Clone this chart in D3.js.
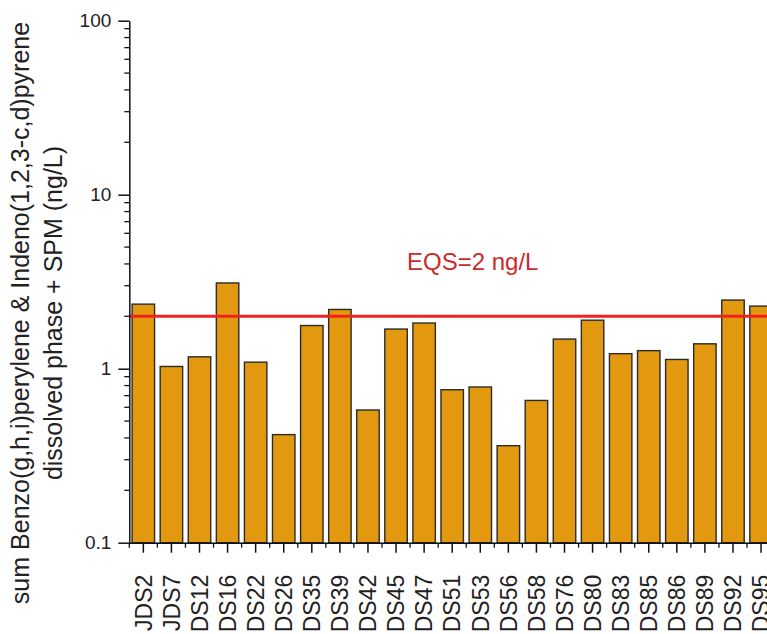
<!DOCTYPE html>
<html>
<head>
<meta charset="utf-8">
<script src="https://cdn.jsdelivr.net/npm/d3@7/dist/d3.min.js"></script>
<style>
  html, body { margin: 0; padding: 0; background: #fff; }
  svg { display: block; }
  text { font-family: "Liberation Sans", Arial, sans-serif; }
</style>
</head>
<body>
<script>
const categories = ["JDS2","JDS7","JDS12","JDS16","JDS22","JDS26","JDS35","JDS39","JDS42","JDS45","JDS47","JDS51","JDS53","JDS56","JDS58","JDS76","JDS80","JDS83","JDS85","JDS86","JDS89","JDS92","JDS95"];
const values = [2.35,1.03,1.17,3.11,1.09,0.418,1.77,2.19,0.579,1.69,1.83,0.757,0.785,0.361,0.657,1.48,1.90,1.22,1.27,1.13,1.39,2.48,2.29];
const yTicks = [0.1, 1, 10, 100];
const yTickLabels = ["0.1", "1", "10", "100"];
const eqsValue = 2;
const eqsLabel = "EQS=2 ng/L";
const yTitle = ["sum Benzo(g,h,i)perylene & Indeno(1,2,3-c,d)pyrene", "dissolved phase + SPM (ng/L)"];

const W = 767, H = 634;
const svg = d3.select("body").append("svg").attr("width", W).attr("height", H);

const x0 = 129.3, x1 = 775.1;
const yTop = 20.7, yBot = 542.7;

const x = d3.scaleBand().domain(categories).range([x0, x1]).paddingInner(0.2).paddingOuter(0.1);
const y = d3.scaleLog().domain([0.1, 100]).range([yBot, yTop]);

// bars
svg.append("g").selectAll("rect").data(categories).join("rect")
  .attr("x", d => x(d))
  .attr("width", x.bandwidth())
  .attr("y", (d, i) => y(values[i]))
  .attr("height", (d, i) => yBot - y(values[i]))
  .attr("fill", "#e2990f")
  .attr("stroke", "#2a2a2a")
  .attr("stroke-width", 1.4);

// EQS line
svg.append("line")
  .attr("x1", x0).attr("x2", W)
  .attr("y1", y(eqsValue)).attr("y2", y(eqsValue))
  .attr("stroke", "#f0221c").attr("stroke-width", 3);

svg.append("text")
  .attr("x", 407).attr("y", 270)
  .attr("fill", "#cc2a2a")
  .attr("font-size", 24)
  .text(eqsLabel);

// y axis
const yAxis = d3.axisLeft(y).tickValues(yTicks)
  .tickFormat((d, i) => yTickLabels[i]).tickSize(11).tickSizeOuter(0).tickPadding(7);
const gy = svg.append("g").attr("transform", `translate(${x0},0)`).call(yAxis);
gy.select(".domain").attr("stroke", "#111").attr("stroke-width", 1.5);
gy.selectAll(".tick line").attr("stroke", "#111").attr("stroke-width", 1.5);
gy.selectAll(".tick text").attr("font-size", 19).attr("fill", "#222")
  .attr("font-family", "Liberation Sans, Arial, sans-serif");

// y minor ticks
const minor = [];
[0.1, 1, 10].forEach(dec => { for (let k = 2; k <= 9; k++) minor.push(dec * k); });
svg.append("g").selectAll("line").data(minor).join("line")
  .attr("x1", x0 - 5).attr("x2", x0)
  .attr("y1", d => y(d)).attr("y2", d => y(d))
  .attr("stroke", "#111").attr("stroke-width", 1.3);

// x axis
const xAxis = d3.axisBottom(x).tickSize(10).tickSizeOuter(0);
const gx = svg.append("g").attr("transform", `translate(0,${yBot})`).call(xAxis);
gx.select(".domain").attr("stroke", "#111").attr("stroke-width", 1.5);
gx.selectAll(".tick line").attr("stroke", "#111").attr("stroke-width", 1.5);
gx.selectAll(".tick text")
  .attr("font-size", 23).attr("fill", "#222")
  .attr("font-family", "Liberation Sans, Arial, sans-serif")
  .attr("text-anchor", "end")
  .attr("transform", "rotate(-90)")
  .attr("x", -32).attr("y", 0).attr("dy", "0.36em");

// x minor ticks at band boundaries
const bounds = categories.map(d => x(d) - x.step() * x.paddingInner() / 2);
svg.append("g").selectAll("line").data(bounds).join("line")
  .attr("x1", d => d).attr("x2", d => d)
  .attr("y1", yBot).attr("y2", yBot + 5)
  .attr("stroke", "#111").attr("stroke-width", 1.3);

// y title
const cy = 313;
svg.append("text")
  .attr("transform", `translate(29,${cy}) rotate(-90)`)
  .attr("text-anchor", "middle").attr("font-size", 25).attr("fill", "#222")
  .text(yTitle[0]);
svg.append("text")
  .attr("transform", `translate(62,${cy}) rotate(-90)`)
  .attr("text-anchor", "middle").attr("font-size", 25).attr("fill", "#222")
  .text(yTitle[1]);
</script>
</body>
</html>
